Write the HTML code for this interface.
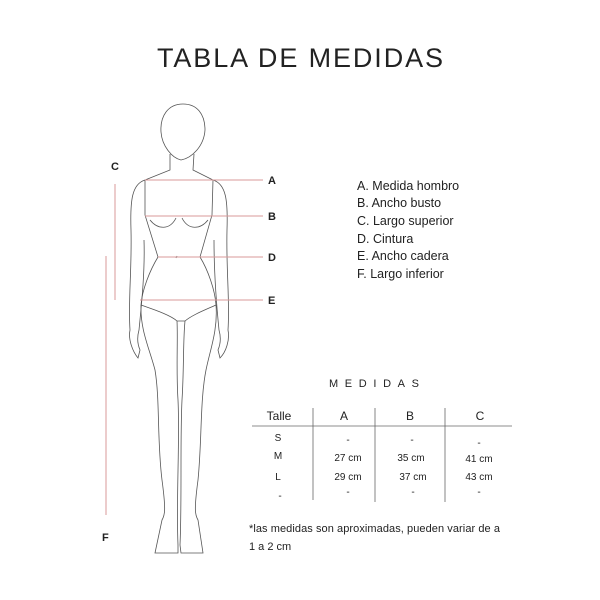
<!DOCTYPE html>
<html><head><meta charset="utf-8"><style>
html,body{margin:0;padding:0;background:#fff;width:600px;height:600px;overflow:hidden}
svg{display:block}
text{font-family:"Liberation Sans",sans-serif;fill:#222}
</style></head><body>
<svg width="600" height="600" viewBox="0 0 600 600" xmlns="http://www.w3.org/2000/svg">
<text x="157" y="67" font-size="27" textLength="286" lengthAdjust="spacing" fill="#111">TABLA DE MEDIDAS</text>

<g fill="none" stroke="#555" stroke-width="0.8">
<path d="M183,104 C168,104 160,116 161,132 C162,146 172,158 181,160 C192,158 204,146 205,130 C205,114 197,104 183,104 Z"/>
<path d="M170,154 L170,170 L145,180"/>
<path d="M194,154 L193,170 L213,180"/>
<path d="M145,180 C132,184 130,200 131,230 C132,270 128,300 130,330 C128,340 133,352 138,358 L140,350 C137,343 137,337 139,330 C142,300 145,270 144,240"/>
<path d="M213,180 C226,184 228,200 227,230 C226,270 230,300 228,330 C230,340 226,352 220,358 L218,350 C221,343 221,337 219,330 C216,300 214,270 214,240"/>
<path d="M145,180 L145,215 L158,257 C150,270 142,290 141,305"/>
<path d="M213,180 L212,215 L200,257 C208,270 215,290 216,305"/>
<path d="M150,220 C158,230 170,230 176,218"/>
<path d="M182,218 C188,230 200,230 208,220"/>
<path d="M177,256 L176,258"/>
<path d="M141,305 C155,310 170,315 177,321 L185,321 C192,315 205,310 216,305"/>
<path d="M141,305 C140,330 150,350 155,370 C160,400 157,440 162,480 C166,510 165,515 162,520 L155,553 L178,553 L178,545 C176,500 180,440 178,400 C176,370 178,340 177,321"/>
<path d="M216,305 C218,330 210,350 206,370 C200,400 202,440 198,480 C194,510 195,515 198,520 L203,553 L181,553 L180,545 C182,500 180,440 182,400 C184,370 183,340 185,321"/>
</g>

<g stroke="#d99a9a" stroke-width="1">
<line x1="145" y1="180" x2="263" y2="180"/>
<line x1="145" y1="216" x2="263" y2="216"/>
<line x1="158" y1="257" x2="263" y2="257"/>
<line x1="140" y1="300" x2="263" y2="300"/>
<line x1="115" y1="184" x2="115" y2="300"/>
<line x1="106" y1="256" x2="106" y2="515"/>
</g>
<g font-size="11" font-weight="bold" fill="#222">
<text x="268" y="184">A</text>
<text x="268" y="220">B</text>
<text x="268" y="261">D</text>
<text x="268" y="304">E</text>
<text x="111" y="170">C</text>
<text x="102" y="541">F</text>
</g>

<g font-size="12.5">
<text x="357" y="190">A. Medida hombro</text>
<text x="357" y="207">B. Ancho busto</text>
<text x="357" y="225">C. Largo superior</text>
<text x="357" y="243">D. Cintura</text>
<text x="357" y="260">E. Ancho cadera</text>
<text x="357" y="278">F. Largo inferior</text>
</g>

<text x="329" y="387" font-size="11" textLength="90" lengthAdjust="spacing">MEDIDAS</text>

<g stroke="#666" stroke-width="0.8">
<line x1="252" y1="426" x2="512" y2="426"/>
<line x1="313" y1="408" x2="313" y2="500"/>
<line x1="375" y1="408" x2="375" y2="502"/>
<line x1="445" y1="408" x2="445" y2="502"/>
</g>
<g font-size="12" text-anchor="middle">
<text x="279" y="420">Talle</text>
<text x="344" y="420">A</text>
<text x="410" y="420">B</text>
<text x="480" y="420">C</text>
</g>
<g font-size="10" text-anchor="middle" fill="#333">
<text x="278" y="441">S</text>
<text x="278" y="459">M</text>
<text x="278" y="480">L</text>
<text x="280" y="499">-</text>
<text x="348" y="443">-</text>
<text x="412" y="443">-</text>
<text x="479" y="446">-</text>
<text x="348" y="461">27 cm</text>
<text x="411" y="461">35 cm</text>
<text x="479" y="462">41 cm</text>
<text x="348" y="480">29 cm</text>
<text x="413" y="480">37 cm</text>
<text x="479" y="480">43 cm</text>
<text x="348" y="495">-</text>
<text x="413" y="495">-</text>
<text x="479" y="495">-</text>
</g>
<g font-size="11" fill="#222">
<text x="249" y="532" textLength="251" lengthAdjust="spacing">*las medidas son aproximadas, pueden variar de a</text>
<text x="249" y="550">1 a 2 cm</text>
</g>
</svg>
</body></html>
